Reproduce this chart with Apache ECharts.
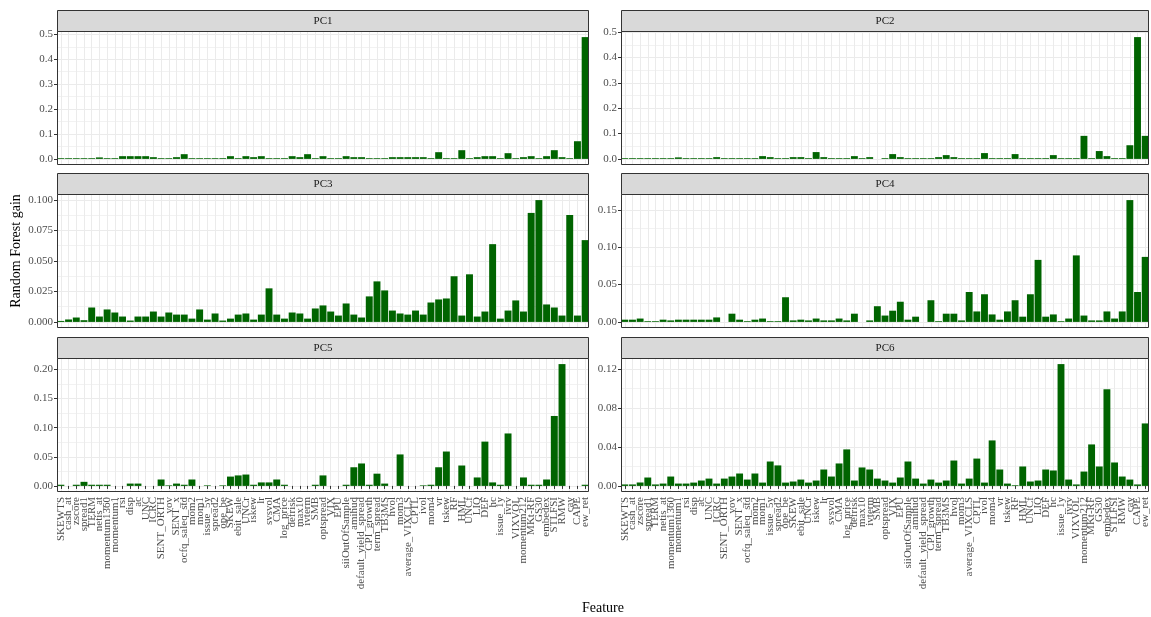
<!DOCTYPE html>
<html><head><meta charset="utf-8">
<script src="https://cdn.jsdelivr.net/npm/echarts@6/dist/echarts.min.js"></script>
<style>html,body{margin:0;padding:0;background:#fff}#c{width:1151px;height:617px}</style>
</head><body><div id="c"></div>
<script>
const features = ['SKEWTS','cash_at','zscore','spread1','TERM','netis_at','momentum1360','momentum1','rsi','disp','ac','UNC','ICRC','SENT_ORTH','vov','SENT_x','ocfq_saleq_std','mom2','mom1','issue_5y','spread2','ope_be','SKEW','ebit_sale','UNCr','iskew','lr','svsvol','CMA','log_price','defrisk','max10','ivterm','SMB','optspread','VIX','EPU','siiOutOfSample','amihud','default_yield_spread','CPI_growth','term_spread','TB3MS','hvol','mom3','average_VIXCLS','CPTL','ivol','mom4','vr','tskew','RF','HML','UNCf','LIQ','DEF','hc','issue_1y','ivrv','VIXVOL','momentum212','MKt-RF','GS30','embedex','STLFSI','RMW','cay','CAPE','ew_ret'];

const pc1 = [0.003,0.003,0.003,0.003,0.003, 0.006,0.003,0.003,0.011,0.011, 0.011,0.011,0.007,0.003,0.003, 0.007,0.019,0.003,0.003,0.003, 0.003,0.003,0.011,0.003,0.011, 0.007,0.011,0.003,0.003,0.003, 0.011,0.007,0.019,0.003,0.011, 0.003,0.003,0.011,0.007,0.007, 0.003,0.003,0.003,0.007,0.007, 0.007,0.007,0.007,0.003,0.027, 0.003,0.003,0.035,0.003,0.007, 0.011,0.011,0.003,0.023,0.003, 0.007,0.011,0.003,0.011,0.035, 0.007,0.003,0.071,0.489];
const pc2 = [0.003,0.003,0.003,0.003,0.003, 0.003,0.003,0.006,0.003,0.003, 0.003,0.003,0.007,0.003,0.003, 0.003,0.003,0.003,0.011,0.007, 0.003,0.003,0.007,0.007,0.003, 0.027,0.007,0.003,0.003,0.003, 0.011,0.003,0.007,0,0.003, 0.019,0.007,0.003,0.003,0.003, 0.003,0.007,0.015,0.007,0.003, 0.003,0.003,0.023,0.003,0.003, 0.003,0.019,0.003,0.003,0.003, 0.003,0.015,0.003,0.003,0.003, 0.091,0.003,0.031,0.011,0.003, 0.003,0.054,0.481,0.091];
const pc3 = [0.0008,0.002,0.0036,0.0014,0.0118, 0.0044,0.0102,0.0077,0.0044,0.0011, 0.0044,0.0044,0.0085,0.0044,0.0077, 0.006,0.006,0.0027,0.0102,0.0019, 0.0069,0.0011,0.0027,0.006,0.0069, 0.0019,0.006,0.0275,0.006,0.0027, 0.0077,0.0069,0.0027,0.011,0.0135, 0.0085,0.0052,0.0151,0.006,0.0036, 0.0209,0.0332,0.0258,0.0093,0.0069, 0.006,0.0093,0.006,0.0159,0.0184, 0.0192,0.0374,0.0052,0.039,0.0044, 0.0085,0.0637,0.0027,0.0093,0.0176, 0.0085,0.0893,0.0998,0.0143,0.0118, 0.0052,0.0876,0.0052,0.067];
const pc4 = [0.003,0.003,0.0045,0.001,0.001, 0.003,0.002,0.003,0.003,0.003, 0.003,0.003,0.006,0,0.011, 0.003,0.001,0.003,0.0045,0.001, 0.001,0.033,0.002,0.003,0.002, 0.0045,0.002,0.002,0.0045,0.002, 0.011,0,0.002,0.021,0.0085, 0.015,0.027,0.003,0.007,0, 0.029,0.001,0.011,0.011,0.002, 0.04,0.014,0.037,0.01,0.003, 0.014,0.029,0.007,0.037,0.083, 0.007,0.01,0.001,0.0045,0.089, 0.0085,0.002,0.002,0.014,0.0045, 0.014,0.163,0.04,0.087];
const pc5 = [0.002,0,0.002,0.007,0.002, 0.002,0.002,0,0,0.004, 0.004,0,0,0.011,0.001, 0.004,0.002,0.011,0,0.001, 0,0.001,0.016,0.018,0.0195, 0.002,0.006,0.006,0.011,0.002, 0,0,0,0.002,0.018, 0,0,0.002,0.032,0.0385, 0.002,0.021,0.004,0,0.054, 0,0,0.001,0.002,0.032, 0.059,0,0.035,0,0.0145, 0.076,0.006,0.002,0.09,0, 0.0145,0.002,0.002,0.011,0.12, 0.209,0,0,0.002];
const pc6 = [0.0015,0.0015,0.0035,0.0086,0.0015, 0.0024,0.0096,0.0024,0.0024,0.0034, 0.0055,0.0075,0.0024,0.0075,0.0096, 0.0127,0.0065,0.0127,0.0034,0.025, 0.021,0.0034,0.0045,0.0065,0.0034, 0.0055,0.0168,0.0096,0.023,0.0374, 0.0055,0.0189,0.0168,0.0075,0.0055, 0.0034,0.0086,0.025,0.0075,0.0024, 0.0065,0.0034,0.0055,0.026,0.0024, 0.0075,0.028,0.0034,0.0466,0.0168, 0.0024,0.0007,0.0199,0.0045,0.0055, 0.0168,0.0158,0.1248,0.0065,0.0015, 0.0147,0.0425,0.0199,0.099,0.024, 0.0096,0.0065,0.0015,0.064];

const pc1Ticks = ['0.0','0.1','0.2','0.3','0.4','0.5'];
const pc2Ticks = ['0.0','0.1','0.2','0.3','0.4','0.5'];
const pc3Ticks = ['0.000','0.025','0.050','0.075','0.100'];
const pc4Ticks = ['0.00','0.05','0.10','0.15'];
const pc5Ticks = ['0.00','0.05','0.10','0.15','0.20'];
const pc6Ticks = ['0.00','0.04','0.08','0.12'];

const panelNames = ['PC1','PC2','PC3','PC4','PC5','PC6'];
const panelData = [pc1,pc2,pc3,pc4,pc5,pc6];
const panelTicks = [pc1Ticks,pc2Ticks,pc3Ticks,pc4Ticks,pc5Ticks,pc6Ticks];

const FONT = 'Liberation Serif';
const lefts = [57, 621], widths = [532, 528], tops = [31, 194, 358], H = 134, STRIP = 21;

const grids = [], xAxes = [], yAxes = [], series = [], graphics = [];
const catCenters = features.map((f, i) => i + 0.5);

panelNames.forEach((name, k) => {
  const col = k % 2, row = Math.floor(k / 2);
  const data = panelData[k];
  const M = Math.max(...data);
  const ymin = -0.05 * M, ymax = 1.05 * M;
  const tickVals = panelTicks[k].map(Number);
  const step = tickVals[1] - tickVals[0];
  const minors = [];
  for (let v = tickVals[0] - step / 2; v <= ymax + 1e-12; v += step) {
    if (v >= ymin) minors.push(+v.toFixed(6));
  }
  const isBottom = row === 2;
  grids.push({left: lefts[col], top: tops[row], width: widths[col], height: H,
    show: true, backgroundColor: '#fff', borderWidth: 0});
  xAxes.push({type: 'category', gridIndex: k, data: features, boundaryGap: true,
    axisLine: {show: false},
    axisTick: {show: isBottom, alignWithLabel: true, interval: 0, length: 3, lineStyle: {color: '#333333'}},
    axisLabel: {show: isBottom, interval: 0, rotate: 90, margin: 5, fontFamily: FONT, fontSize: 11, color: '#4D4D4D'},
    splitLine: {show: false}});
  xAxes.push({type: 'value', gridIndex: k, min: 0, max: features.length,
    axisLine: {show: false}, axisLabel: {show: false, customValues: catCenters},
    axisTick: {show: false, customValues: catCenters},
    splitLine: {show: true, lineStyle: {color: '#EBEBEB', width: 1}}});
  yAxes.push({type: 'value', gridIndex: k, min: ymin, max: ymax,
    axisLine: {show: false},
    axisTick: {show: true, length: 3, customValues: tickVals, lineStyle: {color: '#333333'}},
    axisLabel: {show: true, customValues: tickVals, margin: 4, fontFamily: FONT, fontSize: 11, color: '#4D4D4D',
      formatter: v => { const i = tickVals.findIndex(t => Math.abs(t - v) < 1e-9); return i >= 0 ? panelTicks[k][i] : ''; }},
    splitLine: {show: true, lineStyle: {color: '#EBEBEB', width: 1}}});
  yAxes.push({type: 'value', gridIndex: k, min: ymin, max: ymax,
    axisLine: {show: false}, axisLabel: {show: false, customValues: minors},
    axisTick: {show: false, customValues: minors},
    splitLine: {show: true, lineStyle: {color: '#F2F2F2', width: 1}}});
  series.push({type: 'bar', xAxisIndex: 2 * k, yAxisIndex: 2 * k, data: data,
    barCategoryGap: '10%', itemStyle: {color: '#006400'}, silent: true});
  graphics.push({type: 'rect', z: 100,
    shape: {x: lefts[col] + 0.5, y: tops[row] + 0.5, width: widths[col] - 1, height: H - 1},
    style: {fill: null, stroke: '#333333', lineWidth: 1}, silent: true});
  graphics.push({type: 'rect', z: 100,
    shape: {x: lefts[col] + 0.5, y: tops[row] - STRIP + 0.5, width: widths[col] - 1, height: STRIP},
    style: {fill: '#D9D9D9', stroke: '#333333', lineWidth: 1}, silent: true});
  graphics.push({type: 'text', x: lefts[col] + widths[col] / 2, y: tops[row] - STRIP / 2 + 0.5, z: 101,
    style: {text: name, fill: '#1A1A1A', font: '11px "' + FONT + '"', textAlign: 'center', textVerticalAlign: 'middle'}, silent: true});
});

graphics.push({type: 'text', x: 16, y: 251, rotation: Math.PI / 2,
  style: {text: 'Random Forest gain', fill: '#000', font: '14px "' + FONT + '"', textAlign: 'center', textVerticalAlign: 'middle'}});
graphics.push({type: 'text', x: 603, y: 608,
  style: {text: 'Feature', fill: '#000', font: '14px "' + FONT + '"', textAlign: 'center', textVerticalAlign: 'middle'}});

const chart = echarts.init(document.getElementById('c'), null, {renderer: 'canvas'});
chart.setOption({
  animation: false,
  backgroundColor: '#fff',
  grid: grids, xAxis: xAxes, yAxis: yAxes, series: series, graphic: graphics
});
</script></body></html>
